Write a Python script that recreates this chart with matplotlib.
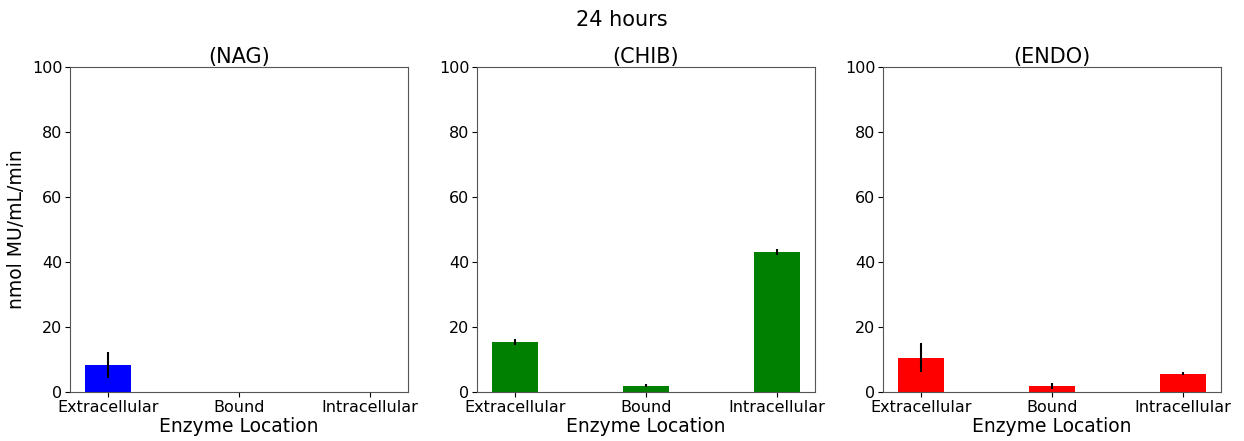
import numpy as np
import matplotlib.pyplot as plt

locations = ["Extracellular", "Bound", "Intracellular"]
enzymes = ["(NAG)", "(CHIB)", "(ENDO)"]
colors = ["blue", "green", "red"]

nag_mean = [8.3, 0.0, 0.0]
nag_err = [4.0, 0.0, 0.0]
chib_mean = [15.4, 2.0, 43.2]
chib_err = [0.8, 0.4, 0.9]
endo_mean = [10.6, 1.8, 5.6]
endo_err = [4.5, 1.0, 0.5]

means = [nag_mean, chib_mean, endo_mean]
errs = [nag_err, chib_err, endo_err]

fig = plt.figure(figsize=(12.44, 4.41), dpi=100)
lefts = [0.0563, 0.3834, 0.7098]
width = 0.2717
ind = np.arange(len(locations))

for i in range(3):
    ax = fig.add_axes([lefts[i], 0.111, width, 0.737])
    ax.bar(ind, means[i], 0.35, yerr=errs[i], color=colors[i], ecolor="black")
    ax.set_ylim(0, 100)
    ax.set_xticks(ind)
    ax.set_xticklabels(locations, fontsize=11.5)
    ax.tick_params(axis="both", labelsize=11.5, pad=2)
    ax.set_title(enzymes[i], fontsize=15, pad=3)
    ax.set_xlabel("Enzyme Location", fontsize=13.5, labelpad=2)
    for s in ax.spines.values():
        s.set_color("#555555")
    if i == 0:
        ax.set_ylabel("nmol MU/mL/min", fontsize=13.5)

fig.suptitle("24 hours", fontsize=15, y=0.978)
fig.savefig("out.png", dpi=100)
